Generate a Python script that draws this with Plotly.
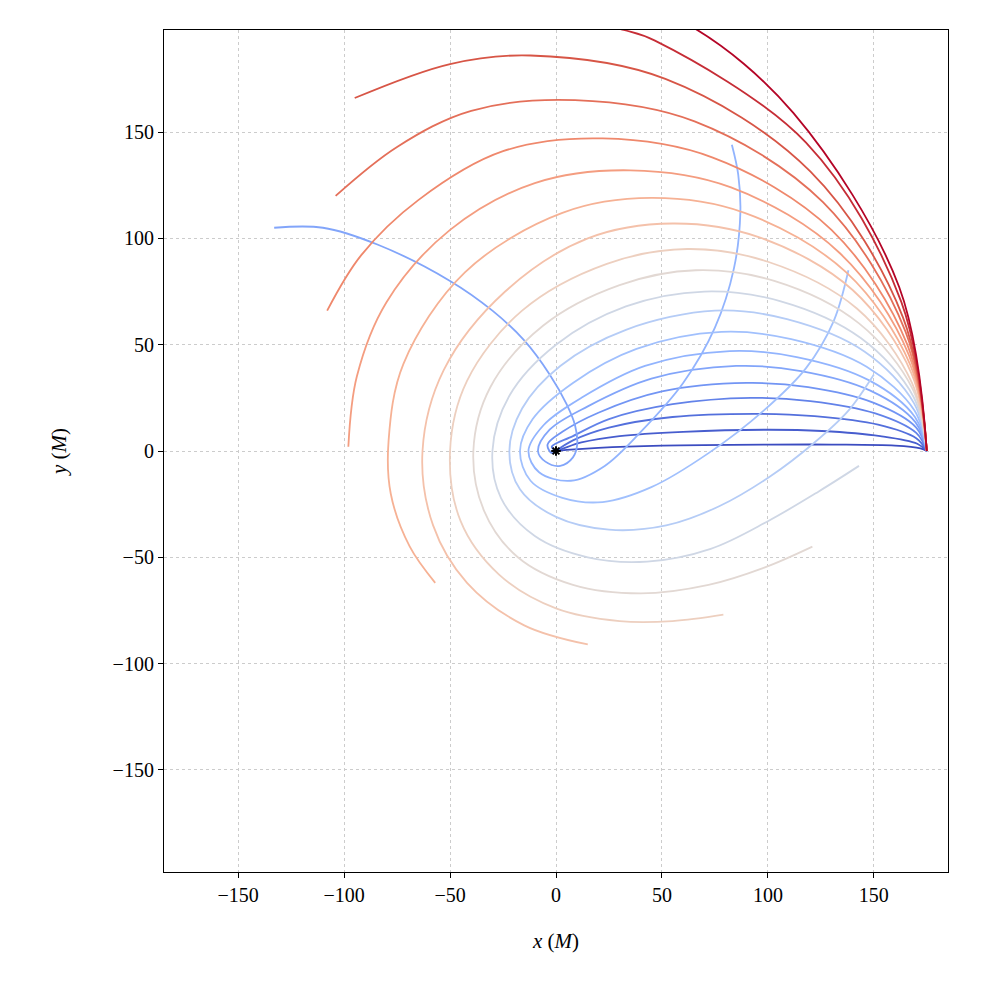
import plotly.graph_objects as go
from plotly.colors import sample_colorscale

# trajectories, (x, y) in units of M, ordered blue -> red
curves = [
    [(175, 0), (172, 1.2), (160, 2.5), (130, 3), (100, 3), (50, 2.5), (20, 1.5), (5, 0.5), (0, 0)],
    [(175, 0), (170.5, 3.4), (153, 7), (125.5, 9.4), (100, 10), (60, 9), (30, 7), (12, 4), (3, 1), (0, 0)],
    [(175, 0), (170, 6), (152, 12.4), (122, 16.4), (95, 17.5), (55, 16), (25, 11), (8, 5), (0, 0)],
    [(175, 0), (170, 8.5), (150.7, 17.7), (120, 23.5), (92, 25), (55, 22), (25, 15), (8, 7), (-2, 2), (0, 0)],
    [(175, 0), (170, 11), (150, 22.6), (119, 30), (90, 32), (50, 28), (20, 18), (3, 9), (-4, 3),
     (-2, -1), (0, 0)],
    [(175, 0), (169.6, 13.6), (148.6, 28.3), (115.6, 37.6), (85, 40), (45, 34), (15, 21), (-3, 10),
     (-8.5, 0), (-5, -5), (2, -7), (8, -3), (10, 3), (9, 12), (5, 22), (-3, 36), (-15, 52),
     (-30, 66), (-50, 80), (-84, 97), (-110, 105), (-133, 105)],
    [(175, 0), (169.4, 16), (147.8, 33.2), (113.6, 44.2), (82, 47), (42, 40), (12, 25), (-6, 12),
     (-13, 0), (-8, -10), (7, -14), (23, -7), (40, 9), (60, 32), (75, 58), (84, 86), (87, 112),
     (86, 130), (83, 144)],
    [(175, 0), (169.2, 19), (146.6, 39.6), (111, 52.6), (78, 56), (38, 48), (8, 32), (-11, 15),
     (-17, 0), (-12, -14), (3, -22), (22, -24), (45, -17), (72, -1), (98, 19), (118, 39), (131, 61),
     (138, 85)],
    [(175, 0), (169, 22.4), (145.7, 46.7), (109, 62), (75, 66), (33, 57), (2, 40), (-16, 20),
     (-22, 0), (-17, -18), (0, -31), (25, -37), (52, -35), (77, -26), (101, -12), (122, 4), (138, 19),
     (150, 36)],
    [(175, 0), (168.7, 25.5), (144, 53), (105.7, 70.5), (70, 75), (33, 68), (0, 50), (-22, 26),
     (-30, 0), (-26, -22), (-10, -40), (15, -50), (43, -52), (73, -46), (100, -33), (124, -19),
     (143, -7)],
    [(175, 0), (168.4, 29), (143, 60), (103, 80), (66, 85), (30, 78), (-6, 59), (-31, 30), (-39, 0),
     (-34, -28), (-18, -50), (8, -63), (40, -67), (72, -63), (98, -55), (121, -45)],
    [(175, 0), (168, 32), (142, 67), (100, 89), (62, 95), (24, 88), (-16, 66), (-42, 33), (-50, 0),
     (-45, -33), (-27, -58), (0, -74), (30, -80), (55, -80), (79, -77)],
    [(175, 0), (167.8, 36.4), (140, 75.7), (96, 100.5), (55, 107), (15, 100), (-24, 75), (-53, 38),
     (-63, 0), (-58, -35), (-42, -62), (-15, -82), (15, -91)],
    [(175, 0), (167.2, 40.5), (137, 84), (89, 112), (45, 119), (3, 112), (-43, 84), (-72, 41),
     (-79, 5), (-78, -20), (-69, -45), (-57, -62)],
    [(175, 0), (166.6, 45), (134, 93), (82.6, 124), (35, 132), (-10, 126), (-50, 104), (-80, 70),
     (-94, 35), (-98, 2)],
    [(175, 0), (165.8, 50), (130, 104), (74, 138), (22, 147), (-25, 141), (-65, 118), (-92, 92),
     (-108, 66)],
    [(175, 0), (165, 56), (126, 117), (65.4, 155), (9, 165), (-40, 160), (-75, 143), (-104, 120)],
    [(175, 0), (163.7, 63), (120, 131.5), (51.6, 175), (-12, 186), (-50, 182), (-95, 166)],
    [(175, 0), (163, 70), (118, 145), (46.7, 193), (32, 198), (10, 203)],
    [(175, 0), (162, 77), (112, 159), (65, 199), (33, 211)],
]

coolwarm = [
    [0.0, "#3b4cc0"], [0.1, "#516ddb"], [0.2, "#6f92f3"], [0.3, "#8db0fe"],
    [0.4, "#aac7fd"], [0.5, "#dcdddd"], [0.6, "#f2cbb7"], [0.7, "#f7ac8e"],
    [0.8, "#ee8468"], [0.9, "#d65244"], [1.0, "#b40426"],
]
colors = sample_colorscale(coolwarm, [i / (len(curves) - 1) for i in range(len(curves))])

fig = go.Figure()
for pts, c in zip(curves, colors):
    fig.add_trace(go.Scatter(
        x=[p[0] for p in pts], y=[p[1] for p in pts], mode="lines",
        line=dict(color=c, width=1.8, shape="spline", smoothing=1.0),
        showlegend=False, hoverinfo="skip"))

fig.add_trace(go.Scatter(x=[0], y=[0], mode="markers",
                         marker=dict(symbol="asterisk", size=8, color="black",
                                     line=dict(width=2, color="black")),
                         showlegend=False))

axis = dict(showline=True, linecolor="black", linewidth=1.2, mirror=True,
            ticks="outside", ticklen=5, tickcolor="black",
            showgrid=True, gridcolor="#cccccc", griddash="dot", gridwidth=1,
            zeroline=False, tickfont=dict(size=20))
fig.update_layout(
    width=1000, height=1000,
    margin=dict(l=156, r=60, t=22, b=136),
    paper_bgcolor="white", plot_bgcolor="white",
    font=dict(family="Liberation Serif, DejaVu Serif, serif", color="black", size=20),
    xaxis=dict(axis, range=[-185, 185], tickvals=[-150, -100, -50, 0, 50, 100, 150],
               title=dict(text="<i>x</i> (<i>M</i>)", font=dict(size=21), standoff=28)),
    yaxis=dict(axis, range=[-198, 198], tickvals=[-150, -100, -50, 0, 50, 100, 150],
               title=dict(text="<i>y</i> (<i>M</i>)", font=dict(size=21), standoff=40)),
)
fig.write_html("out.html")
